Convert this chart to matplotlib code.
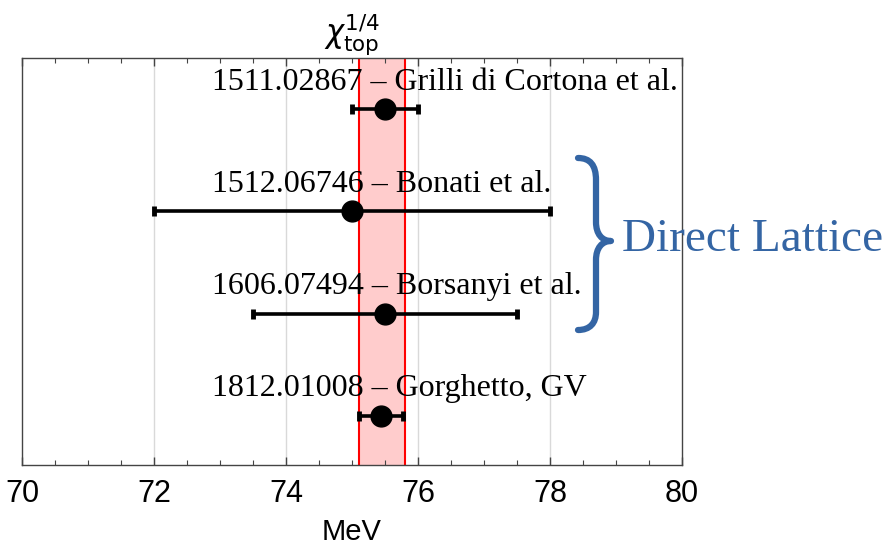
import matplotlib
matplotlib.use("Agg")
import matplotlib.pyplot as plt
from matplotlib.path import Path
from matplotlib.patches import PathPatch

# Lattice / analytic determinations of the topological susceptibility
labels = [
    "1511.02867 \u2013 Grilli di Cortona et al.",
    "1512.06746 \u2013 Bonati et al.",
    "1606.07494 \u2013 Borsanyi et al.",
    "1812.01008 \u2013 Gorghetto, GV",
]
centers = [75.5, 75.0, 75.5, 75.44]
errors = [0.5, 3.0, 2.0, 0.34]
rows = [4, 3, 2, 1]

band_low, band_high = 75.1, 75.8
xticks = [70, 72, 74, 76, 78, 80]

W, H = 892, 547
fig = plt.figure(figsize=(W / 100, H / 100), dpi=100)
ax = fig.add_axes([22 / W, 1 - 465 / H, 660 / W, 407 / H])

ax.set_xlim(70, 80)
ax.set_ylim(0.52, 4.5)

# light vertical grid
for gx in [72, 74, 76, 78]:
    ax.axvline(gx, color="#d9d9d9", lw=1.0, zorder=0)

# uncertainty band
ax.axvspan(band_low, band_high, facecolor="#ffcccc", edgecolor="none", zorder=1)
ax.axvline(band_low, color="red", lw=1.5, zorder=2)
ax.axvline(band_high, color="red", lw=1.5, zorder=2)

ax.errorbar(centers, rows, xerr=errors, fmt="o", color="black",
            markersize=15, elinewidth=2.6, capsize=3.5, capthick=3.5,
            zorder=4)

for lab, r in zip(labels, rows):
    ax.text(72.88, r + 0.19, lab, fontsize=23, family="Liberation Serif",
            ha="left", va="baseline", zorder=5)

ax.set_yticks([])
ax.set_xticks(xticks)
ax.xaxis.set_minor_locator(matplotlib.ticker.MultipleLocator(0.5))
ax.tick_params(axis="x", which="both", direction="in", top=True, bottom=True,
               color="#444444")
ax.tick_params(axis="x", which="major", length=6, width=1.0, pad=10,
               labelsize=22)
ax.tick_params(axis="x", which="minor", length=3.5, width=0.8)
for lab in ax.get_xticklabels():
    lab.set_family("Liberation Sans")
for s in ax.spines.values():
    s.set_color("#444444")
    s.set_linewidth(1.0)

fig.text(352 / W, 1 - 540 / H, "MeV", fontsize=21, family="Liberation Sans",
         ha="center", va="baseline")
ax.set_title(r"$\chi_{\rm top}^{1/4}$", fontsize=22, pad=9)

# curly brace grouping the direct lattice results (pixel coordinates)
def fp(x, y):
    return (x / W, 1 - y / H)

verts = [
    fp(578, 158),
    fp(590, 158), fp(596, 165), fp(596, 180),
    fp(596, 222),
    fp(596, 234), fp(602, 241), fp(611, 241),
    fp(602, 241), fp(596, 248), fp(596, 260),
    fp(596, 312),
    fp(596, 323), fp(590, 330), fp(578, 330),
]
codes = [Path.MOVETO,
         Path.CURVE4, Path.CURVE4, Path.CURVE4,
         Path.LINETO,
         Path.CURVE4, Path.CURVE4, Path.CURVE4,
         Path.CURVE4, Path.CURVE4, Path.CURVE4,
         Path.LINETO,
         Path.CURVE4, Path.CURVE4, Path.CURVE4]
brace = PathPatch(Path(verts, codes), transform=fig.transFigure,
                  facecolor="none", edgecolor="#3465a4", lw=4.5,
                  capstyle="round", joinstyle="round")
fig.patches.append(brace)

fig.text(622 / W, 1 - 240 / H, "Direct Lattice", color="#3465a4",
         fontsize=34, family="Liberation Serif", ha="left", va="center")

fig.savefig("out.png", dpi=100)
